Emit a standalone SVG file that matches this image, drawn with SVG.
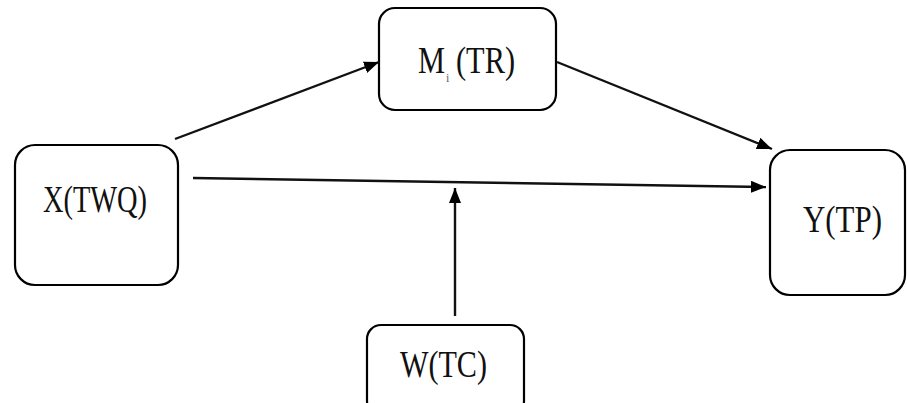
<svg xmlns="http://www.w3.org/2000/svg" width="907" height="403" viewBox="0 0 907 403">
  <style>
    .box { fill: #ffffff; stroke: #000000; stroke-width: 2.2; }
    .lbl { font-family: "Liberation Serif", "DejaVu Serif", serif; font-size: 38px; fill: #111111; }
    .edge { stroke: #111111; stroke-width: 2.4; fill: none; marker-end: url(#ah); }
  </style>
  <defs>
    <marker id="ah" viewBox="0 0 15 12" refX="15" refY="6" markerWidth="15" markerHeight="12" markerUnits="userSpaceOnUse" orient="auto">
      <path d="M0,0 L15,6 L0,12 z" fill="#000000"/>
    </marker>
  </defs>
  <rect width="907" height="403" fill="#ffffff"/>
  <g id="node-M">
    <rect class="box" x="379" y="8" width="177" height="102" rx="16"/>
    <text class="lbl" y="73"><tspan x="418" textLength="27" lengthAdjust="spacingAndGlyphs">M</tspan><tspan x="446" y="82" font-size="12" fill="#666666">i</tspan><tspan x="456" y="73" textLength="59" lengthAdjust="spacingAndGlyphs">(TR)</tspan></text>
  </g>
  <g id="node-X">
    <rect class="box" x="15" y="145" width="163" height="140" rx="20"/>
    <text class="lbl" x="43" y="212" textLength="104" lengthAdjust="spacingAndGlyphs">X(TWQ)</text>
  </g>
  <g id="node-Y">
    <rect class="box" x="770" y="150" width="135" height="145" rx="20"/>
    <text class="lbl" x="803" y="232" textLength="79" lengthAdjust="spacingAndGlyphs">Y(TP)</text>
  </g>
  <g id="node-W">
    <rect class="box" x="367" y="325" width="157" height="90" rx="14"/>
    <text class="lbl" x="400" y="377" textLength="87" lengthAdjust="spacingAndGlyphs">W(TC)</text>
  </g>
  <g id="connectors">
    <line class="edge" x1="175" y1="139" x2="379" y2="62"/>
    <line class="edge" x1="557" y1="62" x2="772" y2="149"/>
    <line class="edge" x1="193" y1="178" x2="766" y2="187"/>
    <line class="edge" x1="455" y1="316" x2="455" y2="188"/>
  </g>
</svg>
